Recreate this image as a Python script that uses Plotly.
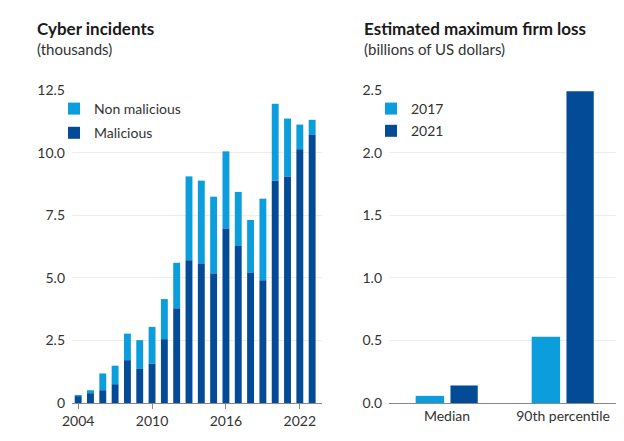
import plotly.graph_objects as go

# left panel: cyber incidents (thousands)
years = list(range(2004, 2024))
malicious = [0.26, 0.39, 0.51, 0.75, 1.71, 1.36, 1.57, 2.55, 3.78, 5.70,
             5.57, 5.17, 6.97, 6.27, 5.20, 4.90, 8.88, 9.05, 10.13, 10.71]
non_malicious = [0.05, 0.12, 0.67, 0.74, 1.06, 1.15, 1.47, 1.60, 1.82, 3.35,
                 3.31, 3.07, 3.08, 2.16, 2.11, 3.26, 3.07, 2.31, 0.99, 0.60]

# right panel: estimated maximum firm loss (billions of US dollars)
loss_cats = ["Median", "90th percentile"]
loss_2017 = [0.057, 0.53]
loss_2021 = [0.14, 2.49]

light = "#0b9ddc"
dark = "#034b97"
font = "Lato"

# the page body adds an 8px margin, so the figure is sized and placed for that
PAD = 8
W, H = 624 - PAD, 441 - PAD


def px(x):
    return (x - PAD) / W


def py(y):
    return 1 - (y - PAD) / H


fig = go.Figure()

fig.add_trace(go.Bar(x=years, y=non_malicious, base=malicious, name="Non malicious",
                     marker=dict(color=light, line_width=0), width=0.56, offset=-0.28,
                     xaxis="x", yaxis="y", legend="legend", legendgroup="a"))
fig.add_trace(go.Bar(x=years, y=malicious, name="Malicious",
                     marker=dict(color=dark, line_width=0), width=0.56, offset=-0.28,
                     xaxis="x", yaxis="y", legend="legend", legendgroup="b"))

fig.add_trace(go.Bar(x=loss_cats, y=loss_2017, name="2017",
                     marker=dict(color=light, line_width=0), width=0.245, offset=-0.27,
                     xaxis="x2", yaxis="y2", legend="legend2", legendgroup="c"))
fig.add_trace(go.Bar(x=loss_cats, y=loss_2021, name="2021",
                     marker=dict(color=dark, line_width=0), width=0.235, offset=0.03,
                     xaxis="x2", yaxis="y2", legend="legend2", legendgroup="d"))

ydom = [py(403), py(90)]

fig.update_layout(
    width=W, height=H,
    margin=dict(l=0, r=0, t=0, b=0, autoexpand=False),
    paper_bgcolor="white", plot_bgcolor="white",
    barmode="overlay",
    font=dict(family=font, size=14, color="#333333"),
    xaxis=dict(domain=[px(72), px(322)], range=[2003.5, 2023.8],
               tickvals=[2004, 2010, 2016, 2022], ticks="outside", ticklen=5,
               tickcolor="#888888", showline=True, linecolor="#888888",
               showgrid=False, zeroline=False, automargin=False),
    yaxis=dict(domain=ydom, range=[0, 12.5], anchor="x",
               tickvals=[0, 2.5, 5, 7.5, 10, 12.5],
               ticktext=["0", "2.5", "5.0", "7.5", "10.0", "12.5"],
               gridcolor="#ededed", zeroline=False, showline=False,
               ticklabelstandoff=6, automargin=False),
    xaxis2=dict(domain=[px(389), px(621)], range=[-0.5, 1.5], anchor="y2",
                showline=True, linecolor="#888888", showgrid=False, ticks="",
                automargin=False),
    yaxis2=dict(domain=ydom, range=[0, 2.5], anchor="x2",
                tickvals=[0, 0.5, 1, 1.5, 2, 2.5],
                ticktext=["0.0", "0.5", "1.0", "1.5", "2.0", "2.5"],
                gridcolor="#ededed", zeroline=False, showline=False,
                ticklabelstandoff=6, automargin=False),
    legend=dict(x=px(54), y=py(93), xanchor="left", yanchor="top",
                traceorder="grouped", tracegroupgap=3, bgcolor="rgba(0,0,0,0)",
                font=dict(size=14, color="#333333")),
    legend2=dict(x=px(371), y=py(93), xanchor="left", yanchor="top",
                 traceorder="grouped", tracegroupgap=1, bgcolor="rgba(0,0,0,0)",
                 font=dict(size=14, color="#333333")),
    annotations=[
        dict(text="<b>Cyber incidents</b>", x=px(35), y=py(28), xref="paper", yref="paper",
             xanchor="left", yanchor="middle", showarrow=False,
             font=dict(size=17, color="#1a1a1a")),
        dict(text="(thousands)", x=px(35), y=py(49), xref="paper", yref="paper",
             xanchor="left", yanchor="middle", showarrow=False,
             font=dict(size=15, color="#333333")),
        dict(text="<b>Estimated maximum firm loss</b>", x=px(362), y=py(28),
             xref="paper", yref="paper", xanchor="left", yanchor="middle", showarrow=False,
             font=dict(size=17, color="#1a1a1a")),
        dict(text="(billions of US dollars)", x=px(362), y=py(49),
             xref="paper", yref="paper", xanchor="left", yanchor="middle", showarrow=False,
             font=dict(size=15, color="#333333")),
    ],
)

fig.write_html("out.html")
